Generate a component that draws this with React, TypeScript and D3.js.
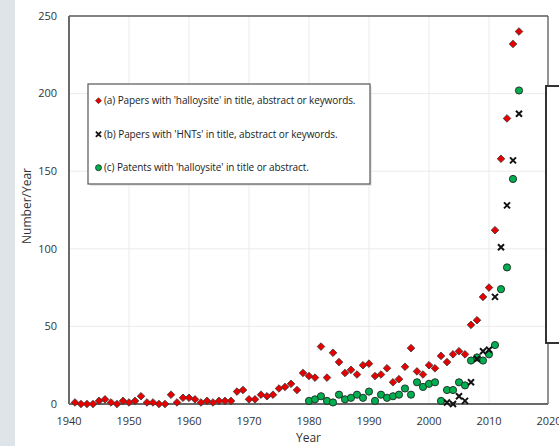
import * as d3 from 'd3'

// (a) papers with 'halloysite' — 1941..2015
const yearsA = d3.range(1941, 2016)
const papersA = [
  1, 0, 0, 0, 2, 3, 1, 0, 2, 1, 2, 5, 1, 1, 0, 0, 6, 1, 4, 4,
  3, 1, 2, 1, 2, 2, 2, 8, 9, 3, 3, 6, 5, 6, 10, 11, 13, 9, 20, 18,
  17, 37, 17, 33, 27, 20, 22, 19, 25, 26, 18, 19, 23, 14, 16, 24, 36, 21, 19, 25,
  23, 31, 27, 32, 34, 32, 51, 54, 69, 75, 112, 158, 184, 232, 240,
]

// (b) papers with 'HNTs' — 2003..2015
const yearsB = d3.range(2003, 2016)
const papersB = [1, 0, 5, 2, 14, 29, 34, 35, 69, 101, 128, 157, 187]

// (c) patents with 'halloysite' — 1980..2015
const yearsC = d3.range(1980, 2016)
const patentsC = [
  2, 3, 5, 2, 1, 6, 3, 4, 6, 4, 8, 2, 6, 4, 5, 6, 10, 6, 14, 11,
  13, 14, 2, 9, 9, 14, 12, 28, 30, 28, 32, 38, 74, 88, 145, 202,
]

const xTicks = [1940, 1950, 1960, 1970, 1980, 1990, 2000, 2010, 2020]
const yTicks = [0, 50, 100, 150, 200, 250]

const legendLabels = [
  "(a) Papers with 'halloysite' in title, abstract or keywords.",
  "(b) Papers with 'HNTs' in title, abstract or keywords.",
  "(c) Patents with 'halloysite' in title or abstract.",
]

const W = 559
const H = 446
const font = "'Open Sans', 'Noto Sans', sans-serif"

const diamond = (cx: number, cy: number, r: number) =>
  `M${cx},${cy - r}L${cx + r},${cy}L${cx},${cy + r}L${cx - r},${cy}Z`
const cross = (cx: number, cy: number, r: number) =>
  `M${cx - r},${cy - r}L${cx + r},${cy + r}M${cx - r},${cy + r}L${cx + r},${cy - r}`

export default function App() {
  const x = d3.scaleLinear().domain([1940, 2020]).range([69, 549])
  const y = d3.scaleLinear().domain([0, 250]).range([404, 16])

  const left = x(1940)
  const right = x(2020) - 1
  const top = y(250)
  const bottom = y(0)

  const red = '#e80000'
  const green = '#00b050'

  return (
    <svg
      width={W}
      height={H}
      style={{ position: 'absolute', left: 0, top: 0, background: '#fff' }}
      fontFamily={font}
    >
      {/* grey strip at left */}
      <rect x={0} y={0} width={15} height={H} fill="#dfe4e9" />

      {/* gridlines */}
      {xTicks.slice(1, -1).map(t => (
        <line key={'gx' + t} x1={x(t)} x2={x(t)} y1={top} y2={bottom} stroke="#ebebeb" strokeWidth={1} />
      ))}
      {yTicks.slice(1, -1).map(t => (
        <line key={'gy' + t} x1={left} x2={right} y1={y(t)} y2={y(t)} stroke="#ebebeb" strokeWidth={1} />
      ))}

      {/* plot frame */}
      <line x1={left} x2={right} y1={top} y2={top} stroke="#5a5a5a" strokeWidth={1.3} />
      <line x1={right} x2={right} y1={top} y2={bottom} stroke="#5a5a5a" strokeWidth={1.3} />
      <line x1={left} x2={left} y1={top} y2={bottom} stroke="#6a6a6a" strokeWidth={2} />
      <line x1={left} x2={right} y1={bottom} y2={bottom} stroke="#6a6a6a" strokeWidth={2} />

      {/* tick labels */}
      {yTicks.map(t => (
        <text key={'yl' + t} x={57} y={y(t)} dy="0.35em" textAnchor="end" fontSize={11} fill="#333">
          {t}
        </text>
      ))}
      {xTicks.map(t => (
        <text key={'xl' + t} x={x(t)} y={425} textAnchor="middle" fontSize={11} fill="#333">
          {t}
        </text>
      ))}

      <text x={(left + right) / 2} y={442} textAnchor="middle" fontSize={12} fill="#333">
        Year
      </text>
      <text
        transform={`translate(31,${(top + bottom) / 2 - 4}) rotate(-90)`}
        textAnchor="middle"
        fontSize={12}
        fill="#333"
      >
        Number/Year
      </text>

      {/* (a) red diamonds */}
      {yearsA.map((yr, i) => (
        <path key={'a' + yr} d={diamond(x(yr), y(papersA[i]), 3.8)} fill={red} stroke="#333" strokeWidth={0.8} />
      ))}
      {/* (c) green circles */}
      {yearsC.map((yr, i) => (
        <circle key={'c' + yr} cx={x(yr)} cy={y(patentsC[i])} r={3.6} fill={green} stroke="#222" strokeWidth={0.9} />
      ))}
      {/* (b) black crosses */}
      {yearsB.map((yr, i) => (
        <path key={'b' + yr} d={cross(x(yr), y(papersB[i]), 3)} stroke="#111" strokeWidth={2} fill="none" />
      ))}

      {/* legend */}
      <rect x={90} y={86} width={282} height={100} fill="#d8d8d8" opacity={0.6} />
      <rect x={88} y={84} width={282} height={100} fill="#fff" stroke="#555" strokeWidth={1.2} />
      {legendLabels.map((label, i) => {
        const ly = 100.7 + i * 33.5
        return (
          <g key={'lg' + i}>
            {i === 0 && <path d={diamond(98.5, ly, 3)} fill={red} stroke="#333" strokeWidth={0.7} />}
            {i === 1 && <path d={cross(98.5, ly, 2.6)} stroke="#111" strokeWidth={1.8} fill="none" />}
            {i === 2 && <circle cx={98.5} cy={ly} r={3} fill={green} stroke="#222" strokeWidth={0.8} />}
            <text x={104} y={ly} dy="0.35em" fontSize={10} fill="#222" letterSpacing={-0.1}>
              {label}
            </text>
          </g>
        )
      })}

      {/* partial box at right edge */}
      <rect x={546} y={86} width={30} height={257} fill="#fff" stroke="#333" strokeWidth={2} />
    </svg>
  )
}
